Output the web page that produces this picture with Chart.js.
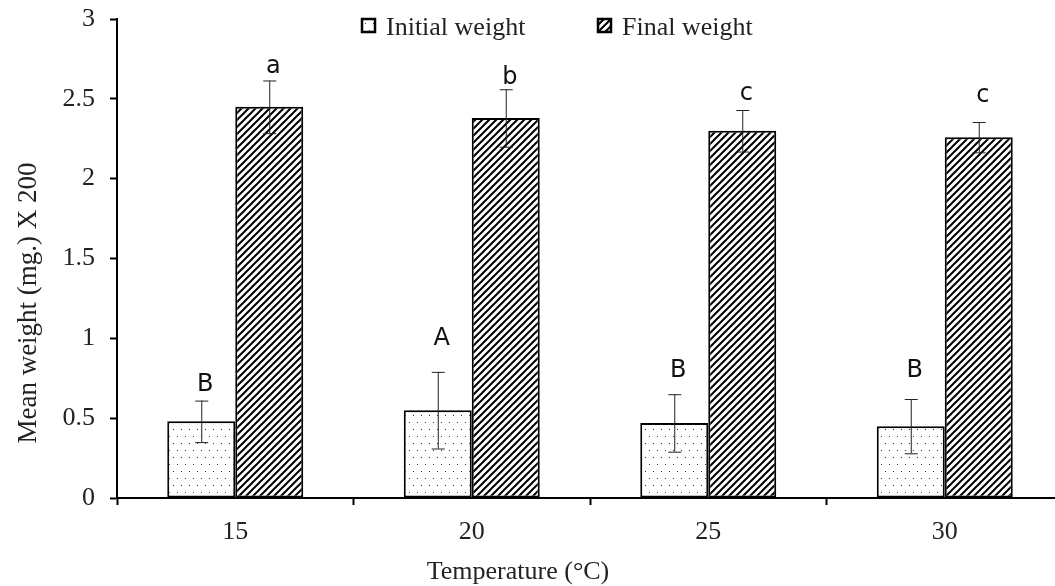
<!DOCTYPE html>
<html>
<head>
<meta charset="utf-8">
<script src="https://cdn.jsdelivr.net/npm/chart.js@4.4.0/dist/chart.umd.min.js"></script>
<style>
  html, body { margin: 0; padding: 0; background: #fff; overflow: hidden; }
  #weightChart { display: block; }
</style>
</head>
<body>
<canvas id="weightChart" width="1075" height="586"></canvas>
<script>
const temperatures = ['15', '20', '25', '30'];
const initialWeight = [0.48, 0.55, 0.47, 0.45];
const initialError = [0.13, 0.24, 0.18, 0.17];
const finalWeight = [2.45, 2.38, 2.30, 2.26];
const finalError = [0.165, 0.18, 0.13, 0.095];
const initialLetters = ['B', 'A', 'B', 'B'];
const finalLetters = ['a', 'b', 'c', 'c'];
// heights (in axis units) where the significance letters sit
const initialLetterY = [0.67, 0.96, 0.76, 0.76];
const finalLetterY = [2.66, 2.59, 2.49, 2.48];
const yTicks = [0, 0.5, 1, 1.5, 2, 2.5, 3];

const SERIF = '"Liberation Serif", "Times New Roman", serif';

function dotPattern() {
  const c = document.createElement('canvas');
  c.width = 8;
  c.height = 14;
  const g = c.getContext('2d');
  g.fillStyle = '#fff';
  g.fillRect(0, 0, 8, 14);
  g.fillStyle = '#333';
  g.fillRect(1, 2, 1, 1);
  g.fillRect(5, 9, 1, 1);
  return g.createPattern(c, 'repeat');
}

function hatchPattern() {
  const s = 7;
  const c = document.createElement('canvas');
  c.width = s;
  c.height = s;
  const g = c.getContext('2d');
  g.fillStyle = '#fff';
  g.fillRect(0, 0, s, s);
  g.strokeStyle = '#000';
  g.lineWidth = 2;
  g.beginPath();
  g.moveTo(-1, s + 1);
  g.lineTo(s + 1, -1);
  g.moveTo(-1, 1);
  g.lineTo(1, -1);
  g.moveTo(s - 1, s + 1);
  g.lineTo(s + 1, s - 1);
  g.stroke();
  return g.createPattern(c, 'repeat');
}

const dots = dotPattern();
const hatch = hatchPattern();

const extrasPlugin = {
  id: 'extras',
  afterDatasetsDraw(chart) {
    const ctx = chart.ctx;
    const y = chart.scales.y;
    const sets = [
      { values: initialWeight, errors: initialError, letters: initialLetters, letterY: initialLetterY },
      { values: finalWeight, errors: finalError, letters: finalLetters, letterY: finalLetterY }
    ];
    ctx.save();
    sets.forEach((set, i) => {
      const meta = chart.getDatasetMeta(i);
      meta.data.forEach((bar, j) => {
        const top = y.getPixelForValue(set.values[j] + set.errors[j]);
        const bottom = y.getPixelForValue(set.values[j] - set.errors[j]);
        ctx.strokeStyle = '#222';
        ctx.lineWidth = 1;
        ctx.beginPath();
        ctx.moveTo(bar.x + 0.5, top);
        ctx.lineTo(bar.x + 0.5, bottom);
        ctx.moveTo(bar.x - 6, top + 0.5);
        ctx.lineTo(bar.x + 7, top + 0.5);
        ctx.moveTo(bar.x - 6, bottom + 0.5);
        ctx.lineTo(bar.x + 7, bottom + 0.5);
        ctx.stroke();

        ctx.fillStyle = '#111';
        ctx.font = '24px "DejaVu Sans", sans-serif';
        ctx.textAlign = 'center';
        ctx.textBaseline = 'alphabetic';
        ctx.fillText(set.letters[j], bar.x + 4, y.getPixelForValue(set.letterY[j]));
      });
    });
    ctx.restore();
  },
  afterDraw(chart) {
    const ctx = chart.ctx;
    ctx.save();
    // legend
    const items = [
      { label: 'Initial weight', fill: dots, x: 361 },
      { label: 'Final weight', fill: hatch, x: 597 }
    ];
    items.forEach(item => {
      ctx.fillStyle = item.fill;
      ctx.fillRect(item.x, 18, 15, 15);
      ctx.strokeStyle = '#000';
      ctx.lineWidth = 2.5;
      ctx.strokeRect(item.x + 1, 19, 13, 13);
      ctx.fillStyle = '#222';
      ctx.font = '26px ' + SERIF;
      ctx.textAlign = 'left';
      ctx.textBaseline = 'alphabetic';
      ctx.fillText(item.label, item.x + 25, 35);
    });
    // axis titles
    ctx.fillStyle = '#222';
    ctx.font = '26px ' + SERIF;
    ctx.textAlign = 'center';
    ctx.textBaseline = 'alphabetic';
    ctx.fillText('Temperature (°C)', 518, 579);

    ctx.translate(36, 303);
    ctx.rotate(-Math.PI / 2);
    ctx.font = '27px ' + SERIF;
    ctx.fillText('Mean weight (mg.) X 200', 0, 0);
    ctx.restore();
  }
};

new Chart(document.getElementById('weightChart'), {
  type: 'bar',
  data: {
    labels: temperatures,
    datasets: [
      {
        label: 'Initial weight',
        data: initialWeight,
        backgroundColor: dots,
        borderColor: '#000',
        borderWidth: 2,
        borderSkipped: false,
        categoryPercentage: 0.575,
        barPercentage: 1
      },
      {
        label: 'Final weight',
        data: finalWeight,
        backgroundColor: hatch,
        borderColor: '#000',
        borderWidth: 2,
        borderSkipped: false,
        categoryPercentage: 0.575,
        barPercentage: 1
      }
    ]
  },
  options: {
    responsive: false,
    animation: false,
    layout: { padding: { top: 19, right: 12, bottom: 0, left: 0 } },
    plugins: {
      legend: { display: false },
      tooltip: { enabled: false }
    },
    scales: {
      x: {
        offset: true,
        grid: {
          offset: true,
          drawOnChartArea: false,
          drawTicks: true,
          tickLength: 7,
          tickWidth: 2,
          tickColor: '#000'
        },
        border: { display: true, color: '#000', width: 2 },
        ticks: {
          color: '#222',
          font: { family: SERIF, size: 26 },
          padding: 12
        },
        afterFit(scale) {
          scale.height = 88;
          scale.paddingLeft = 0;
          scale.paddingRight = 0;
        }
      },
      y: {
        min: 0,
        max: 3,
        afterBuildTicks(scale) {
          scale.ticks = yTicks.map(v => ({ value: v }));
        },
        grid: {
          drawOnChartArea: false,
          drawTicks: true,
          tickLength: 7,
          tickWidth: 2,
          tickColor: '#000'
        },
        border: { display: true, color: '#000', width: 2 },
        ticks: {
          color: '#222',
          font: { family: SERIF, size: 26 },
          padding: 15,
          callback: value => String(value)
        },
        afterFit(scale) {
          scale.width = 117;
          scale.paddingTop = 0;
          scale.paddingBottom = 0;
        }
      }
    }
  },
  plugins: [extrasPlugin]
});
</script>
</body>
</html>
